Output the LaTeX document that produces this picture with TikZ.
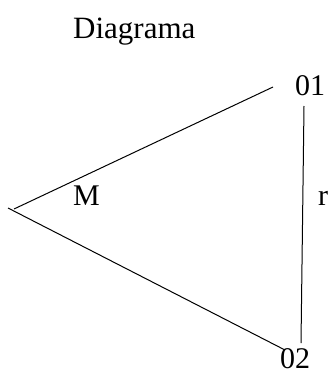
\documentclass[tikz,border=0pt]{standalone}
\usepackage{fontspec}
\setmainfont{Liberation Serif}
\begin{document}
\begin{tikzpicture}[x=1pt,y=-1pt,
  lbl/.style={inner sep=0pt,anchor=base west,font=\fontsize{30}{36}\selectfont},
  ttl/.style={inner sep=0pt,anchor=base west,font=\fontsize{31}{37}\selectfont},
  edge/.style={line width=1pt,black}]
\useasboundingbox (0,0) rectangle (331,369);
\node[ttl] (title) at (73,38) {Diagrama};
\node[lbl] (o1) at (295,95) {01};
\node[lbl] (m) at (73,205) {M};
\node[lbl] (r) at (318,205) {r};
\node[lbl] (o2) at (280,368) {02};
\coordinate (apexlow) at (8,208);
\coordinate (apexup) at (14,209);
\coordinate (topend) at (273,87);
\coordinate (vtop) at (304,106);
\coordinate (vbot) at (301,343);
\coordinate (lowend) at (285,350);
\draw[edge] (apexup) -- (topend);
\draw[edge] (apexlow) -- (lowend);
\draw[edge] (vtop) -- (vbot);
\end{tikzpicture}
\end{document}
